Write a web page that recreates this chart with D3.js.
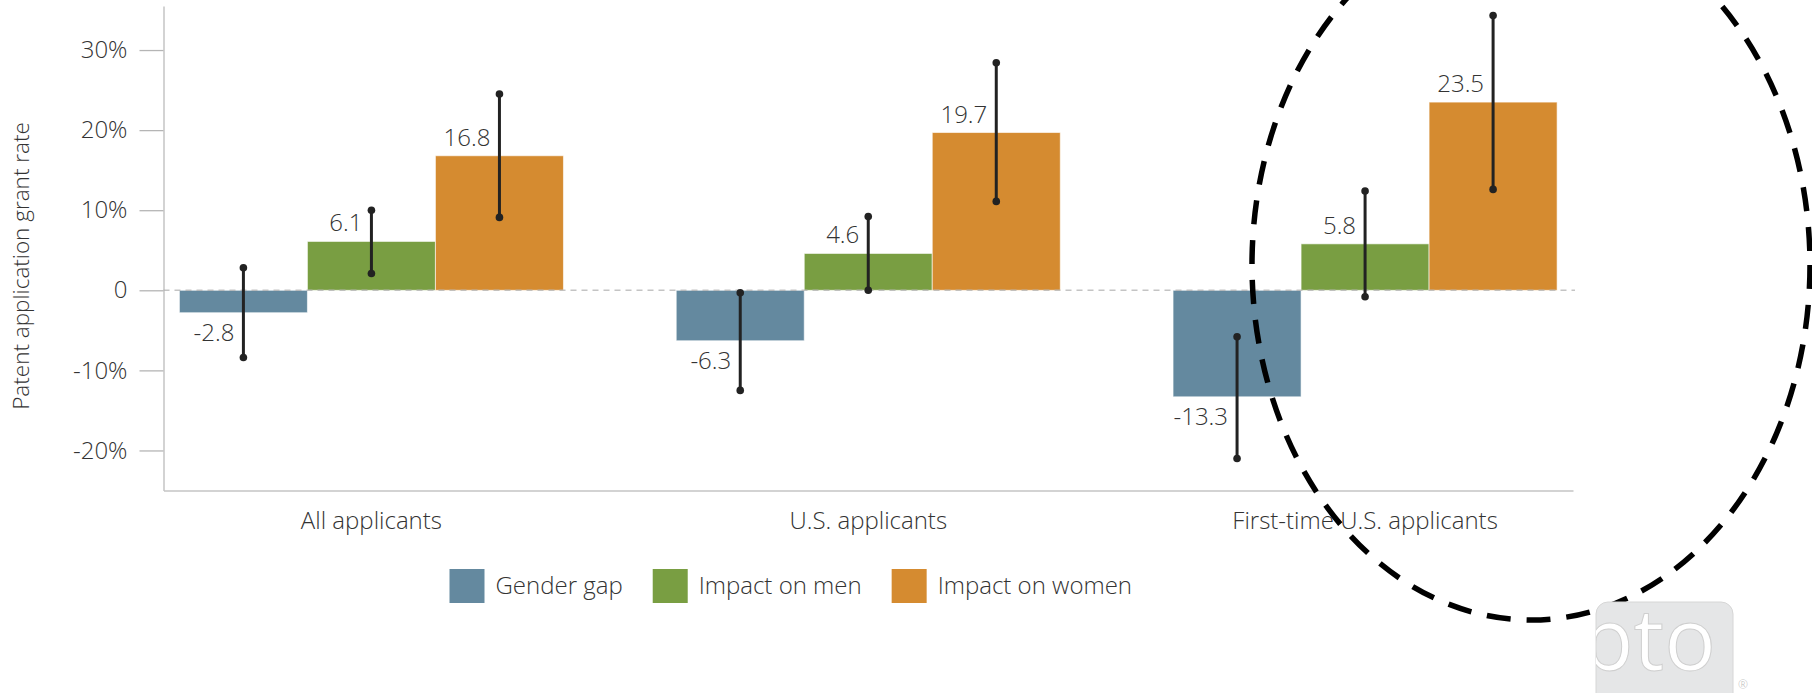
<!DOCTYPE html>
<html>
<head>
<meta charset="utf-8">
<script src="https://cdn.jsdelivr.net/npm/d3@7"></script>
<style>
  body { margin: 0; background: #fff; }
  svg { display: block; font-family: "Open Sans", sans-serif; font-weight: 300; }
</style>
</head>
<body>
<div id="chart"></div>
<script>
const WIDTH = 1812
const HEIGHT = 693

// data
const groups = ["All applicants", "U.S. applicants", "First-time U.S. applicants"]
const seriesNames = ["Gender gap", "Impact on men", "Impact on women"]
const colors = ["#64899f", "#799e42", "#d58b30"]
const gapValues = [-2.8, -6.3, -13.3]
const menValues = [6.1, 4.6, 5.8]
const womenValues = [16.8, 19.7, 23.5]
const gapLow = [-8.4, -12.5, -21.0]
const gapHigh = [2.8, -0.3, -5.8]
const menLow = [2.1, 0.0, -0.8]
const menHigh = [10.0, 9.2, 12.4]
const womenLow = [9.1, 11.1, 12.6]
const womenHigh = [24.5, 28.4, 34.3]
const yTicks = [-20, -10, 0, 10, 20, 30]

const values = [gapValues, menValues, womenValues]
const lows = [gapLow, menLow, womenLow]
const highs = [gapHigh, menHigh, womenHigh]

const rows = []
groups.forEach((g, gi) => {
    seriesNames.forEach((s, si) => {
        rows.push({ group: g, series: s, value: values[si][gi], low: lows[si][gi], high: highs[si][gi], color: colors[si] })
    })
})

const svg = d3.select("#chart")
    .append("svg")
    .attr("width", WIDTH)
    .attr("height", HEIGHT)

const x0 = d3.scaleBand()
    .domain(groups)
    .range([163.5, 1573])
    .paddingInner(0.227)
    .paddingOuter(0.032)

const x1 = d3.scaleBand()
    .domain(seriesNames)
    .range([0, x0.bandwidth()])

const y = d3.scaleLinear()
    .domain([-25, 35.5])
    .range([490.5, 6])

const TEXT = "#333333"
const FONT = 24

// y axis
const yAxis = svg.append("g")
    .attr("transform", "translate(163.5,0)")
    .call(d3.axisLeft(y).tickValues(yTicks).tickSize(24).tickSizeOuter(0).tickPadding(12)
        .tickFormat(d => d === 0 ? "0" : d + "%"))
yAxis.select(".domain").attr("stroke", "#c4c4c4").attr("stroke-width", 1.5)
yAxis.selectAll(".tick line").attr("stroke", "#b5b5b5").attr("stroke-width", 1.3)
yAxis.selectAll(".tick text").attr("fill", TEXT).attr("font-size", FONT).attr("font-family", "Open Sans")

svg.append("text")
    .attr("transform", "translate(29,266) rotate(-90)")
    .attr("text-anchor", "middle")
    .attr("font-size", 22.5)
    .attr("fill", TEXT)
    .text("Patent application grant rate")

// x axis
const xAxis = svg.append("g")
    .attr("transform", `translate(0,${y(-25)})`)
    .call(d3.axisBottom(x0).tickSize(0).tickSizeOuter(0).tickPadding(21))
xAxis.select(".domain").attr("stroke", "#c4c4c4").attr("stroke-width", 1.5)
xAxis.selectAll(".tick text").attr("fill", TEXT).attr("font-size", FONT).attr("font-family", "Open Sans")

// bars
const barX = d => x0(d.group) + x1(d.series)
const barMid = d => barX(d) + x1.bandwidth() / 2

svg.append("g").selectAll("rect")
    .data(rows)
    .enter()
    .append("rect")
    .attr("x", barX)
    .attr("width", x1.bandwidth())
    .attr("y", d => y(Math.max(0, d.value)))
    .attr("height", d => Math.abs(y(d.value) - y(0)))
    .attr("fill", d => d.color)
    .attr("stroke", "#ffffff")
    .attr("stroke-opacity", 0.6)
    .attr("stroke-width", 1)

// zero line
svg.append("line")
    .attr("x1", 163.5)
    .attr("x2", 1575)
    .attr("y1", y(0))
    .attr("y2", y(0))
    .attr("stroke", "#b0b0b0")
    .attr("stroke-opacity", 0.75)
    .attr("stroke-width", 1.5)
    .attr("stroke-dasharray", "6,5")

// value labels
svg.append("g").selectAll("text")
    .data(rows)
    .enter()
    .append("text")
    .attr("x", d => barMid(d) - 9)
    .attr("y", d => d.value >= 0 ? y(d.value) - 10 : y(d.value) + 28)
    .attr("text-anchor", "end")
    .attr("font-size", FONT)
    .attr("fill", TEXT)
    .text(d => d.value.toFixed(1))

// error bars
const err = svg.append("g").selectAll("g")
    .data(rows)
    .enter()
    .append("g")

err.append("line")
    .attr("x1", barMid)
    .attr("x2", barMid)
    .attr("y1", d => y(d.high))
    .attr("y2", d => y(d.low))
    .attr("stroke", "#222")
    .attr("stroke-width", 3)

err.append("circle")
    .attr("cx", barMid)
    .attr("cy", d => y(d.high))
    .attr("r", 3.8)
    .attr("fill", "#222")

err.append("circle")
    .attr("cx", barMid)
    .attr("cy", d => y(d.low))
    .attr("r", 3.8)
    .attr("fill", "#222")

// legend
const legend = svg.append("g").attr("transform", "translate(449.5,569)")
let lx = 0
seriesNames.forEach((s, i) => {
    legend.append("rect")
        .attr("x", lx)
        .attr("y", 0)
        .attr("width", 35)
        .attr("height", 34)
        .attr("fill", colors[i])
    const t = legend.append("text")
        .attr("x", lx + 46)
        .attr("y", 25)
        .attr("font-size", FONT)
        .attr("fill", TEXT)
        .text(s)
    lx += 46 + t.node().getComputedTextLength() + 30
})

// dashed annotation ellipse
svg.append("ellipse")
    .attr("cx", 1531)
    .attr("cy", 265)
    .attr("rx", 279)
    .attr("ry", 355)
    .attr("fill", "none")
    .attr("stroke", "#000")
    .attr("stroke-width", 5.5)
    .attr("stroke-dasharray", "24,16")

// logo watermark
svg.append("clipPath").attr("id", "logoClip")
    .append("rect")
    .attr("x", 1596).attr("y", 602).attr("width", 137).attr("height", 110).attr("rx", 12)

svg.append("rect")
    .attr("x", 1596).attr("y", 602).attr("width", 137).attr("height", 110).attr("rx", 12)
    .attr("fill", "#e5e6e7")
    .attr("stroke", "#d6d6d6")

svg.append("text")
    .attr("clip-path", "url(#logoClip)")
    .attr("x", 1716)
    .attr("y", 670)
    .attr("text-anchor", "end")
    .attr("font-size", 86)
    .attr("font-weight", 400)
    .attr("fill", "#ffffff")
    .attr("stroke", "#cfcfcf")
    .attr("stroke-width", 1)
    .text("pto")

svg.append("text")
    .attr("x", 1738)
    .attr("y", 689)
    .attr("font-size", 12)
    .attr("fill", "#bbbbbb")
    .text("®")
</script>
</body>
</html>
